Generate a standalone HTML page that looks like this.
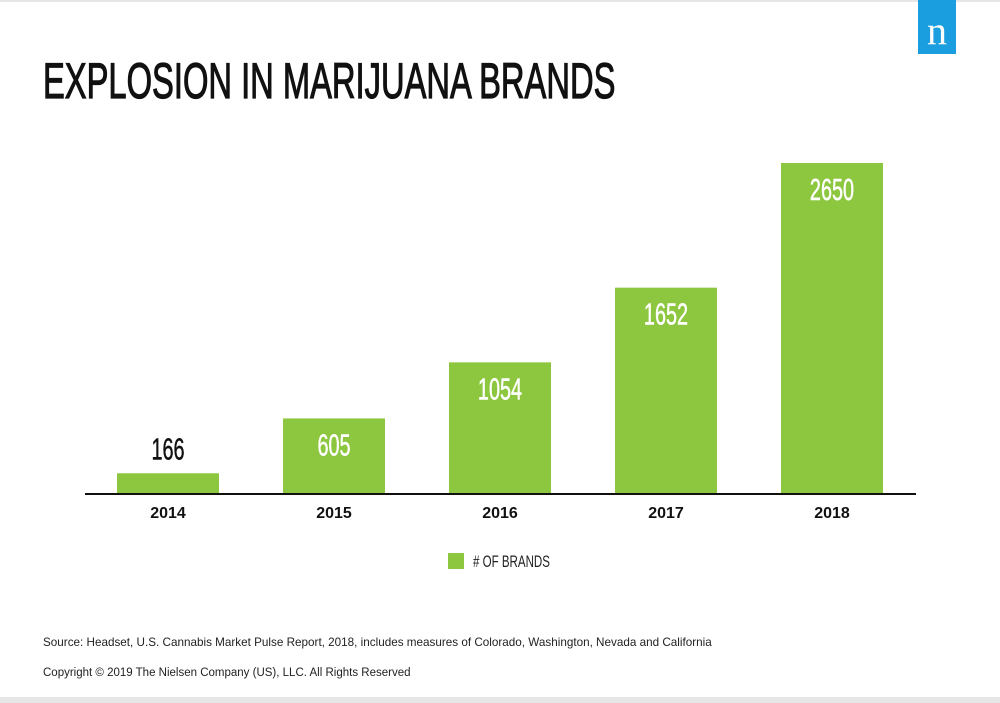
<!DOCTYPE html>
<html><head><meta charset="utf-8"><style>
body{margin:0;width:1000px;height:703px;background:#fff;position:relative;overflow:hidden;font-family:"Liberation Sans",sans-serif}
.abs{position:absolute}
</style></head><body>
<div class="abs" style="left:0;top:0;width:1000px;height:2px;background:#e6e6e6"></div>
<div class="abs" style="left:0;top:697px;width:1000px;height:6px;background:#e6e6e6"></div>
<div class="abs" style="left:918px;top:0;width:38px;height:54px;background:#1a9ee0;color:#fff;font-family:'Liberation Serif',serif;font-size:40px;text-align:center;line-height:62px">n</div>
<div class="abs" style="left:43px;top:56px;font-size:50px;line-height:50px;color:#111;transform:scaleX(0.654);transform-origin:0 0;white-space:nowrap;-webkit-text-stroke:1.2px #111">EXPLOSION IN MARIJUANA BRANDS</div>
<svg class="abs" style="left:0;top:0" width="1000" height="703">
<g id="bars"></g>
<line x1="85" x2="916" y1="494" y2="494" stroke="#111" stroke-width="2"/>
<rect x="448" y="553" width="16" height="16" fill="#8dc63f"/>
<text x="473" y="567" font-size="17" fill="#222" transform="translate(473 0) scale(0.68 1) translate(-473 0)"># OF BRANDS</text>
</svg>
<div class="abs" style="left:43px;top:636px;font-size:11.7px;color:#222">Source: Headset, U.S. Cannabis Market Pulse Report, 2018, includes measures of Colorado, Washington, Nevada and California</div>
<div class="abs" style="left:43px;top:667px;font-size:11.5px;color:#222">Copyright © 2019 The Nielsen Company (US), LLC. All Rights Reserved</div>
<script>
const categories=["2014","2015","2016","2017","2018"];
const values=[166,605,1054,1652,2650];
const baseY=494, pxPerUnit=331/2650, x0=117, step=166, bw=102;
const ns="http://www.w3.org/2000/svg";
const g=document.getElementById('bars');
function yScale(v){return baseY-v*pxPerUnit;}
categories.forEach((c,i)=>{
  const x=x0+i*step, y=yScale(values[i]);
  const r=document.createElementNS(ns,'rect');
  r.setAttribute('x',x);r.setAttribute('y',y);r.setAttribute('width',bw);r.setAttribute('height',baseY-y);r.setAttribute('fill','#8dc63f');
  
  
  g.appendChild(r);
  const t=document.createElementNS(ns,'text');
  const inside=(baseY-y)>50;
  const cx=x+bw/2, ty=inside?y+37:y-14;
  t.setAttribute('x',cx);t.setAttribute('y',ty);t.setAttribute('text-anchor','middle');
  t.setAttribute('font-size','31');t.setAttribute('fill',inside?'#fff':'#111');
  t.setAttribute('stroke',inside?'#fff':'#111');t.setAttribute('stroke-width','0.5');
  t.setAttribute('transform',`translate(${cx} 0) scale(0.64 1) translate(${-cx} 0)`);
  t.textContent=values[i];
  
  
  g.appendChild(t);
  const l=document.createElementNS(ns,'text');
  l.setAttribute('x',cx);l.setAttribute('y',518);l.setAttribute('text-anchor','middle');
  l.setAttribute('font-size','16');l.setAttribute('font-weight','bold');l.setAttribute('fill','#111');
  l.textContent=c;
  
  
  g.appendChild(l);
});
</script>
</body></html>
